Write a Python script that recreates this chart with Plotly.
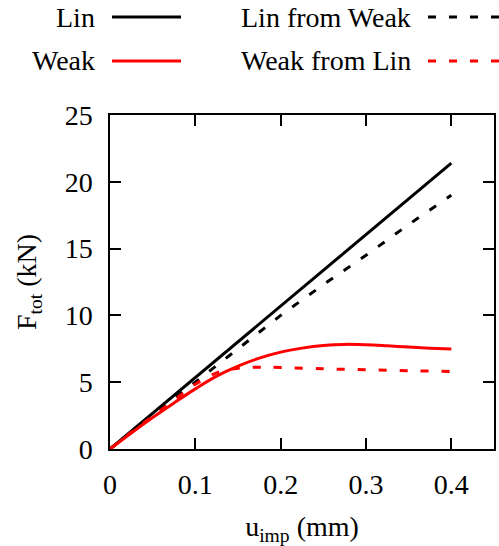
import plotly.graph_objects as go

# ---- data ----
x_lin = [0, 0.1, 0.2, 0.3, 0.4]
y_lin = [0, 5.35, 10.7, 16.05, 21.4]

x_lin_from_weak = [0, 0.05, 0.1, 0.15, 0.2, 0.25, 0.3, 0.35, 0.4]
y_lin_from_weak = [0, 2.55, 5.0, 7.5, 10.0, 12.3, 14.5, 16.8, 19.0]

x_weak = [0, 0.025, 0.05, 0.075, 0.1, 0.125, 0.15, 0.175, 0.2, 0.225, 0.25,
          0.275, 0.3, 0.325, 0.35, 0.375, 0.4]
y_weak = [0, 1.2, 2.35, 3.45, 4.5, 5.45, 6.2, 6.8, 7.25, 7.55, 7.75,
          7.83, 7.8, 7.72, 7.63, 7.55, 7.48]

x_weak_from_lin = [0, 0.025, 0.05, 0.075, 0.1, 0.125, 0.15, 0.175, 0.2,
                   0.25, 0.3, 0.35, 0.4]
y_weak_from_lin = [0, 1.25, 2.45, 3.65, 4.85, 5.7, 6.05, 6.12, 6.1,
                   6.0, 5.93, 5.86, 5.8]

x_ticks = [0, 0.1, 0.2, 0.3, 0.4]
y_ticks = [0, 5, 10, 15, 20, 25]

FONT = "Liberation Serif"
FS = 28
W, H = 499, 546
L, R, T, B = 110, 5, 115, 97
PW, PH = W - L - R, H - T - B

def px(xp):
    return (xp - L) / PW

def py(yp):
    return (H - B - yp) / PH

DASH = "8px,13px"

fig = go.Figure()
fig.add_trace(go.Scatter(x=x_lin, y=y_lin, mode="lines",
                         line=dict(color="black", width=3), name="Lin"))
fig.add_trace(go.Scatter(x=x_lin_from_weak, y=y_lin_from_weak, mode="lines",
                         line=dict(color="black", width=3, dash=DASH),
                         name="Lin from Weak"))
fig.add_trace(go.Scatter(x=x_weak, y=y_weak, mode="lines",
                         line=dict(color="#ff0000", width=3, shape="spline"),
                         name="Weak"))
fig.add_trace(go.Scatter(x=x_weak_from_lin, y=y_weak_from_lin, mode="lines",
                         line=dict(color="#ff0000", width=3, dash=DASH,
                                   shape="spline"),
                         name="Weak from Lin"))

# manual legend (text right-aligned, sample after text)
legend_items = [
    ("Lin", 97, 17, 112, 181, "black", "solid"),
    ("Weak", 97, 61, 112, 181, "#ff0000", "solid"),
    ("Lin from Weak", 413, 17, 428, 499, "black", "dash"),
    ("Weak from Lin", 413, 61, 428, 499, "#ff0000", "dash"),
]
for text, tx, ty, x0, x1, col, ds in legend_items:
    fig.add_annotation(text=text, xref="paper", yref="paper",
                       x=px(tx), y=py(ty), xanchor="right", yanchor="middle",
                       showarrow=False, font=dict(family=FONT, size=FS, color="black"))
    fig.add_shape(type="line", xref="paper", yref="paper",
                  x0=px(x0), x1=px(x1), y0=py(ty), y1=py(ty),
                  line=dict(color=col, width=3, dash=DASH if ds == "dash" else "solid"))

axis_common = dict(
    showgrid=False, zeroline=False, showline=True, linecolor="black",
    linewidth=1.5, mirror="allticks", ticks="inside", ticklen=11,
    tickwidth=1.5, tickcolor="black", automargin=False,
    tickfont=dict(family=FONT, size=FS, color="black"),
)

fig.update_layout(
    width=W, height=H,
    margin=dict(l=L, r=R, t=T, b=B),
    paper_bgcolor="white", plot_bgcolor="white",
    showlegend=False,
    font=dict(family=FONT, size=FS, color="black"),
    xaxis=dict(range=[0, 0.45], tickvals=x_ticks,
               ticktext=[("%g" % v) for v in x_ticks],
               ticklabelstandoff=10,
               title=dict(text="u<sub>imp</sub> (mm)", standoff=22,
                          font=dict(family=FONT, size=FS)),
               **axis_common),
    yaxis=dict(range=[0, 25], tickvals=y_ticks,
               ticklabelstandoff=10,
               title=dict(text="F<sub>tot</sub> (kN)", standoff=20,
                          font=dict(family=FONT, size=FS)),
               **axis_common),
)

fig.write_html("out.html", config={"displayModeBar": False},
               post_script="document.body.style.margin='0px';")
